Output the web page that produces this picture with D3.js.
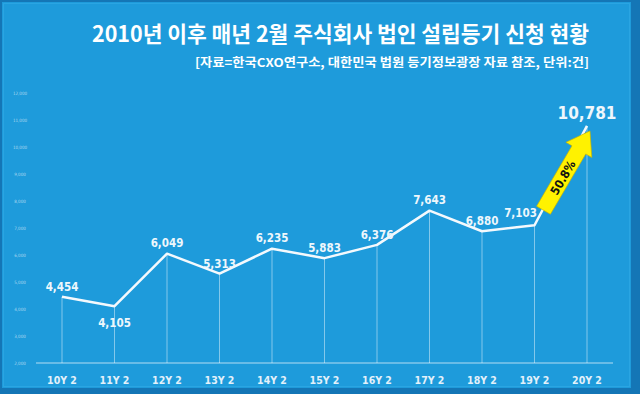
<!DOCTYPE html>
<html>
<head>
<meta charset="utf-8">
<script src="https://cdn.jsdelivr.net/npm/d3@7"></script>
<style>
  html, body { margin: 0; padding: 0; background: #1b93d3; }
  svg { display: block; }
</style>
</head>
<body>
<script>
// data
var years = ["10Y 2", "11Y 2", "12Y 2", "13Y 2", "14Y 2", "15Y 2", "16Y 2", "17Y 2", "18Y 2", "19Y 2", "20Y 2"];
var filings = [4454, 4105, 6049, 5313, 6235, 5883, 6376, 7643, 6880, 7103, 10781];
var yTicks = [2000, 3000, 4000, 5000, 6000, 7000, 8000, 9000, 10000, 11000, 12000];
var growthLabel = "50.8%";
var title = "2010년 이후 매년 2월 주식회사 법인 설립등기 신청 현황";
var subtitle = "[자료=한국CXO연구소, 대한민국 법원 등기정보광장 자료 참조, 단위:건]";

// label nudges (which ones sit below the point etc.)
var labelDy = [-10, 17, -11, -10, -11, -10, -10, -11, -10, -12, -11];
var labelDx = [0, 0, 0, 0, 0, 0, 0, 0, 0, -14, 0];

var width = 640;
var height = 394;

var svg = d3.select("body")
    .append("svg")
    .attr("width", width)
    .attr("height", height);

// background + frame
svg.append("rect")
    .attr("width", width).attr("height", height)
    .attr("fill", "#1476b6");
svg.append("rect")
    .attr("x", 2).attr("y", 2)
    .attr("width", 629).attr("height", 386)
    .attr("fill", "#1e9bdb");
svg.append("rect")
    .attr("x", 3.5).attr("y", 3.5)
    .attr("width", 626).attr("height", 383)
    .attr("fill", "none")
    .attr("stroke", "#2aa5e2")
    .attr("stroke-width", 1);

var x = d3.scalePoint()
    .domain(years)
    .range([62, 587]);

var y = d3.scaleLinear()
    .domain([2000, 12000])
    .range([363, 93]);

var numFont = "'DejaVu Sans Condensed', 'DejaVu Sans', sans-serif";
var krFont = "'Noto Sans CJK KR', sans-serif";

// title
svg.append("text")
    .attr("x", 92).attr("y", 42)
    .attr("textLength", 497)
    .attr("lengthAdjust", "spacingAndGlyphs")
    .attr("fill", "#ffffff")
    .attr("font-family", krFont)
    .attr("font-weight", 700)
    .attr("font-size", 22)
    .text(title);

svg.append("text")
    .attr("x", 195).attr("y", 67)
    .attr("textLength", 394)
    .attr("lengthAdjust", "spacingAndGlyphs")
    .attr("fill", "#ffffff")
    .attr("font-family", krFont)
    .attr("font-weight", 700)
    .attr("font-size", 12)
    .text(subtitle);

// y axis labels (tiny)
svg.append("g")
    .selectAll("text")
    .data(yTicks)
    .enter().append("text")
    .attr("x", 20)
    .attr("y", function (d) { return y(d) + 1.5; })
    .attr("text-anchor", "middle")
    .attr("fill", "rgba(255,255,255,0.6)")
    .attr("font-family", numFont)
    .attr("font-size", 4.5)
    .text(function (d) { return d3.format(",")(d); });

// baseline
svg.append("line")
    .attr("x1", 36).attr("x2", 613)
    .attr("y1", y(2000)).attr("y2", y(2000))
    .attr("stroke", "rgba(255,255,255,0.45)")
    .attr("stroke-width", 1.5);

// drop lines
svg.append("g")
    .selectAll("line")
    .data(filings)
    .enter().append("line")
    .attr("x1", function (d, i) { return x(years[i]); })
    .attr("x2", function (d, i) { return x(years[i]); })
    .attr("y1", function (d) { return y(d); })
    .attr("y2", y(2000))
    .attr("stroke", "rgba(255,255,255,0.45)")
    .attr("stroke-width", 1);

// the line
var line = d3.line()
    .x(function (d, i) { return x(years[i]); })
    .y(function (d) { return y(d); });

svg.append("path")
    .datum(filings)
    .attr("d", line)
    .attr("fill", "none")
    .attr("stroke", "#f4f9fd")
    .attr("stroke-width", 2.5)
    .attr("stroke-linejoin", "round");

// value labels
svg.append("g")
    .selectAll("text")
    .data(filings)
    .enter().append("text")
    .attr("x", function (d, i) { return x(years[i]) + labelDx[i]; })
    .attr("y", function (d, i) { return y(d) + labelDy[i] + 4; })
    .attr("text-anchor", "middle")
    .attr("fill", "#eef7fc")
    .attr("font-family", numFont)
    .attr("font-weight", 700)
    .attr("font-size", function (d, i) { return i == filings.length - 1 ? 17 : 11.5; })
    .text(function (d) { return d3.format(",")(d); });

// x labels
svg.append("g")
    .selectAll("text")
    .data(years)
    .enter().append("text")
    .attr("x", function (d) { return x(d); })
    .attr("y", 384)
    .attr("text-anchor", "middle")
    .attr("fill", "#e3f1fa")
    .attr("font-family", numFont)
    .attr("font-weight", 700)
    .attr("font-size", 10.5)
    .text(function (d) { return d; });

// yellow growth arrow from 19Y to 20Y
var n = filings.length;
var x0 = x(years[n - 2]) + 9, y0 = y(filings[n - 2]) - 15;
var x1 = x(years[n - 1]) + 3, y1 = y(filings[n - 1]) + 5;
var len = Math.sqrt((x1 - x0) * (x1 - x0) + (y1 - y0) * (y1 - y0));
var ang = Math.atan2(y1 - y0, x1 - x0) * 180 / Math.PI;
var sw = 8, hw = 15, hl = 22;

var arrow = svg.append("g")
    .attr("transform", "translate(" + x0 + "," + y0 + ") rotate(" + ang + ")");

arrow.append("path")
    .attr("d", "M0," + (-sw) + " L" + (len - hl) + "," + (-sw) + " L" + (len - hl) + "," + (-hw) +
        " L" + len + ",0 L" + (len - hl) + "," + hw + " L" + (len - hl) + "," + sw + " L0," + sw + " Z")
    .attr("fill", "#fff200")
    .attr("stroke", "#c9b400")
    .attr("stroke-width", 0.6);

arrow.append("text")
    .attr("x", (len - hl) / 2 + 3)
    .attr("y", 4.5)
    .attr("text-anchor", "middle")
    .attr("fill", "#111")
    .attr("font-family", numFont)
    .attr("font-weight", 700)
    .attr("font-size", 12)
    .text(growthLabel);
</script>
</body>
</html>
